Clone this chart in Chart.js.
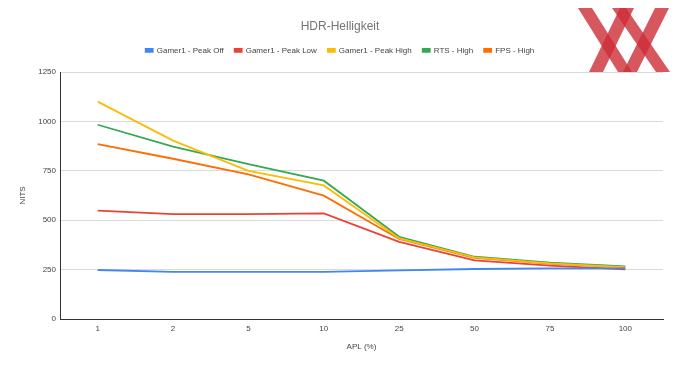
<!DOCTYPE html>
<html>
<head>
<meta charset="utf-8">
<script src="https://cdn.jsdelivr.net/npm/chart.js@4"></script>
<style>
  html, body { margin: 0; padding: 0; background: #fff; }
  #chart { display: block; }
</style>
</head>
<body>
<canvas id="chart" width="680" height="371"></canvas>
<script>
const apl = ['1', '2', '5', '10', '25', '50', '75', '100'];
const peakOff = [248, 238, 238, 238, 246, 253, 256, 256];
const peakLow = [548, 531, 531, 535, 390, 297, 270, 251];
const peakHigh = [1100, 903, 750, 676, 408, 312, 282, 263];
const rtsHigh = [983, 872, 784, 700, 416, 315, 285, 266];
const fpsHigh = [885, 811, 732, 624, 405, 310, 280, 263];
const yTicks = [0, 250, 500, 750, 1000, 1250];

const font = 'Arial, "Liberation Sans", sans-serif';

function line(label, data, color) {
    return {
        label: label,
        data: data,
        borderColor: color,
        backgroundColor: color,
        borderWidth: 1.8,
        pointRadius: 0,
        tension: 0
    };
}

// watermark in the top right corner
const logo = {
    id: 'logo',
    afterDraw(chart) {
        const ctx = chart.ctx;
        const bars = [
            [578, 592, 632, 618],
            [620, 634, 603, 589],
            [612, 626, 670, 656],
            [655, 669, 637, 623]
        ];
        ctx.save();
        ctx.fillStyle = 'rgba(205, 45, 55, 0.8)';
        bars.forEach(b => {
            ctx.beginPath();
            ctx.moveTo(b[0], 8);
            ctx.lineTo(b[1], 8);
            ctx.lineTo(b[2], 72);
            ctx.lineTo(b[3], 72);
            ctx.closePath();
            ctx.fill();
        });
        ctx.restore();
    }
};

// fixed legend height, and title/legend centred on the whole canvas
const headerFix = {
    id: 'headerFix',
    beforeInit(chart) {
        const fit = chart.legend.fit;
        chart.legend.fit = function () {
            fit.bind(chart.legend)();
            this.height = 36.6;
        };
    },
    afterLayout(chart) {
        chart.legend.right = chart.width;
        chart.titleBlock.right = chart.width;
    }
};

new Chart(document.getElementById('chart'), {
    type: 'line',
    data: {
        labels: apl,
        datasets: [
            line('Gamer1 - Peak Off', peakOff, '#4285f4'),
            line('Gamer1 - Peak Low', peakLow, '#ea4335'),
            line('Gamer1 - Peak High', peakHigh, '#fbbc04'),
            line('RTS - High', rtsHigh, '#34a853'),
            line('FPS - High', fpsHigh, '#ff6d01')
        ]
    },
    options: {
        responsive: false,
        animation: false,
        layout: { padding: { left: 0, right: 17, top: 0, bottom: 0 } },
        plugins: {
            title: {
                display: true,
                text: 'HDR-Helligkeit',
                color: '#757575',
                font: { family: font, size: 12, weight: 'normal' },
                padding: { top: 19, bottom: 2 }
            },
            legend: {
                labels: {
                    color: '#444',
                    font: { family: font, size: 8 },
                    boxWidth: 7,
                    boxHeight: 3,
                    padding: 11
                }
            },
            tooltip: { enabled: false }
        },
        scales: {
            x: {
                offset: true,
                grid: { display: false, drawTicks: false },
                border: { color: '#333', width: 1 },
                ticks: { color: '#444', font: { family: font, size: 8 }, padding: 5 },
                title: {
                    display: true,
                    text: 'APL (%)',
                    color: '#444',
                    font: { family: font, size: 8 },
                    padding: { top: 0, bottom: 19 }
                },
                afterFit(scale) { scale.height = 52; }
            },
            y: {
                min: 0,
                max: 1250,
                afterBuildTicks(scale) { scale.ticks = yTicks.map(v => ({ value: v })); },
                grid: { color: '#dadada', drawTicks: false },
                border: { color: '#333', width: 1 },
                ticks: {
                    color: '#444',
                    font: { family: font, size: 8 },
                    padding: 4,
                    callback: v => String(v)
                },
                title: {
                    display: true,
                    text: 'NITS',
                    color: '#444',
                    font: { family: font, size: 8 },
                    padding: { top: 18, bottom: 0 }
                },
                afterFit(scale) { scale.width = 60; }
            }
        }
    },
    plugins: [logo, headerFix]
});
</script>
</body>
</html>
